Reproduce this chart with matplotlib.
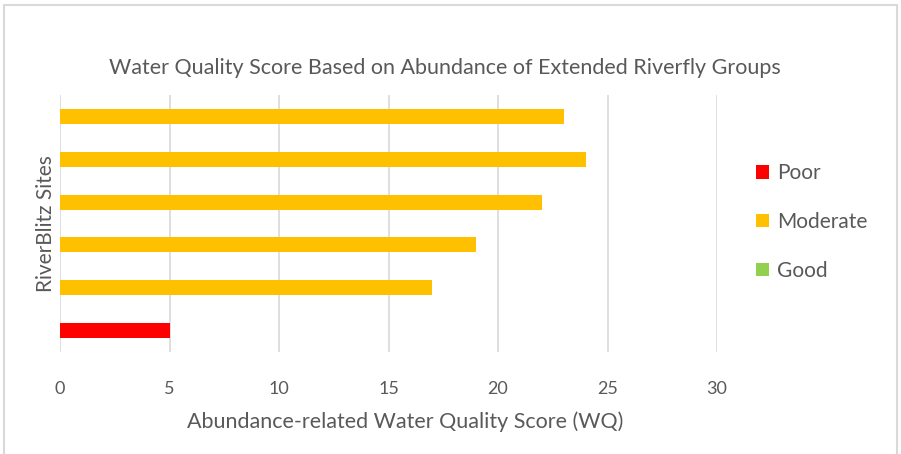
import matplotlib.pyplot as plt
from matplotlib.patches import Patch, Rectangle

# scores per site, bottom to top
scores = [5, 17, 19, 22, 24, 23]
grades = ['Poor', 'Moderate', 'Moderate', 'Moderate', 'Moderate', 'Moderate']
legend_labels = ['Poor', 'Moderate', 'Good']
grade_colours = {'Poor': '#FF0000', 'Moderate': '#FFC000', 'Good': '#92D050'}
xticks = [0, 5, 10, 15, 20, 25, 30]

plt.rcParams['font.family'] = ['Lato', 'DejaVu Sans']
grey = '#595959'

fig = plt.figure(figsize=(9.01, 4.54), dpi=100)
ax = fig.add_axes([60 / 901, 102 / 454, 657 / 901, 257 / 454])

pos = list(range(len(scores)))
ax.barh(pos, scores, height=0.35, color=[grade_colours[g] for g in grades], zorder=3)

ax.set_xlim(0, 30)
ax.set_ylim(-0.5, len(scores) - 0.5)
ax.set_xticks(xticks)
ax.set_xticklabels([str(t) for t in xticks], fontsize=13, color=grey)
ax.set_yticks([])
ax.tick_params(axis='x', length=0, pad=21)
ax.grid(axis='x', color='#D9D9D9', linewidth=1.2, zorder=0)
for s in ax.spines.values():
    s.set_visible(False)

ax.set_ylabel('RiverBlitz Sites', fontsize=15, color=grey, labelpad=3)
fig.text(405 / 901, 1 - 422 / 454, 'Abundance-related Water Quality Score (WQ)',
         fontsize=15.5, color=grey, ha='center', va='center')
fig.text(445 / 901, 1 - 68 / 454, 'Water Quality Score Based on Abundance of Extended Riverfly Groups',
         fontsize=15.5, color=grey, ha='center', va='center')

handles = [Patch(facecolor=grade_colours[g], label=g) for g in legend_labels]
fig.legend(handles=handles, loc='center left', bbox_to_anchor=(756 / 901, 1 - 222 / 454),
           frameon=False, fontsize=15, labelcolor=grey, handlelength=0.6, handleheight=0.6,
           handletextpad=0.4, labelspacing=1.38, borderpad=0, borderaxespad=0)

# outer chart border
fig.patches.append(Rectangle((4 / 901, -0.05), 893 / 901, 1 - 5 / 454 + 0.05,
                             transform=fig.transFigure, fill=False,
                             edgecolor='#D9D9D9', linewidth=1.5))

fig.savefig('out.png', dpi=100)
